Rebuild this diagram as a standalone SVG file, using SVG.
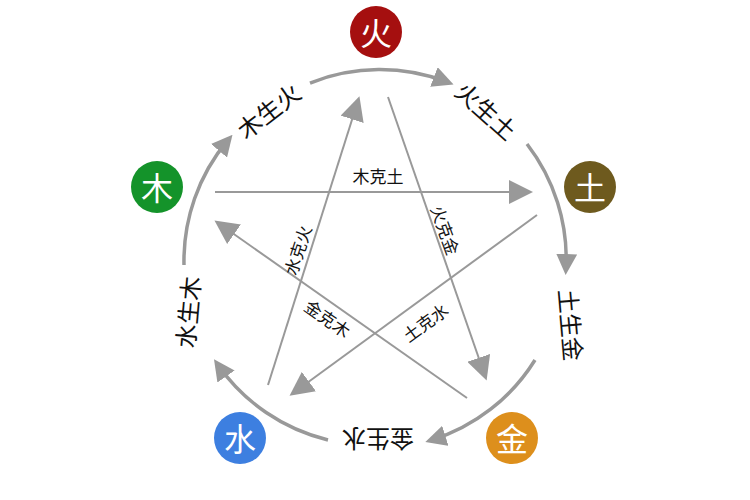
<svg xmlns="http://www.w3.org/2000/svg" width="750" height="500" viewBox="0 0 750 500">
<style>
.n{font-family:"Noto Sans CJK SC",sans-serif;font-size:32px;fill:#fff;text-anchor:middle;dominant-baseline:central}
.g{font-family:"Noto Sans CJK SC",sans-serif;font-size:24px;fill:#111;text-anchor:middle;dominant-baseline:central}
.k{font-family:"Noto Sans CJK SC",sans-serif;font-size:17px;fill:#111;text-anchor:middle;dominant-baseline:central}
.c path,.c line{stroke:#999;fill:none}
.c path{stroke-width:3.5}
.c line{stroke-width:2}
</style>
<defs>
<marker id="a" markerWidth="6" markerHeight="6" refX="4" refY="3" orient="auto" markerUnits="strokeWidth"><path d="M0,0L6,3L0,6Z" fill="#999"/></marker>
<marker id="b" markerWidth="12" markerHeight="12" refX="8" refY="6" orient="auto" markerUnits="strokeWidth"><path d="M0,0L12,6L0,12Z" fill="#999"/></marker>
</defs>
<rect width="750" height="500" fill="#fff"/>
<g class="c" id="connectors">
<path d="M310,83 A188,188 0 0 1 447,82" marker-end="url(#a)"/>
<path d="M527,144 A188,188 0 0 1 566,268" marker-end="url(#a)"/>
<path d="M535,360 A188,188 0 0 1 432,440" marker-end="url(#a)"/>
<path d="M328,440 A188,188 0 0 1 218,365" marker-end="url(#a)"/>
<path d="M184,265 A188,188 0 0 1 228,140" marker-end="url(#a)"/>
<line x1="215" y1="192" x2="525" y2="192" marker-end="url(#b)"/>
<line x1="268" y1="385" x2="357" y2="104" marker-end="url(#b)"/>
<line x1="388" y1="97" x2="484" y2="373" marker-end="url(#b)"/>
<line x1="537" y1="215" x2="296" y2="391" marker-end="url(#b)"/>
<line x1="467" y1="398" x2="221" y2="225" marker-end="url(#b)"/>
</g>
<g id="fire"><circle cx="376" cy="32" r="26" fill="#a50f0f"/><text class="n" x="376" y="31">火</text></g>
<g id="earth"><circle cx="590" cy="187" r="26" fill="#6e5a1e"/><text class="n" x="590" y="186">土</text></g>
<g id="metal"><circle cx="512" cy="438" r="26" fill="#dd8f1c"/><text class="n" x="512" y="437">金</text></g>
<g id="water"><circle cx="240" cy="438" r="26" fill="#3d7fe0"/><text class="n" x="240" y="437">水</text></g>
<g id="wood"><circle cx="157" cy="187" r="26" fill="#14932a"/><text class="n" x="157" y="186">木</text></g>
<g id="labels">
<text class="g" transform="translate(268,110) rotate(-38)">木生火</text>
<text class="g" transform="translate(487,110) rotate(42)">火生土</text>
<text class="g" transform="translate(572,325) rotate(85)">土生金</text>
<text class="g" transform="translate(378,440) rotate(180)">金生水</text>
<text class="g" transform="translate(187,312) rotate(-85)">水生木</text>
<text class="k" x="378" y="175">木克土</text>
<text class="k" transform="translate(297,250) rotate(-72)">水克火</text>
<text class="k" transform="translate(446,230) rotate(70)">火克金</text>
<text class="k" transform="translate(425,322) rotate(-36)">土克水</text>
<text class="k" transform="translate(328,318) rotate(35)">金克木</text>
</g>
</svg>
